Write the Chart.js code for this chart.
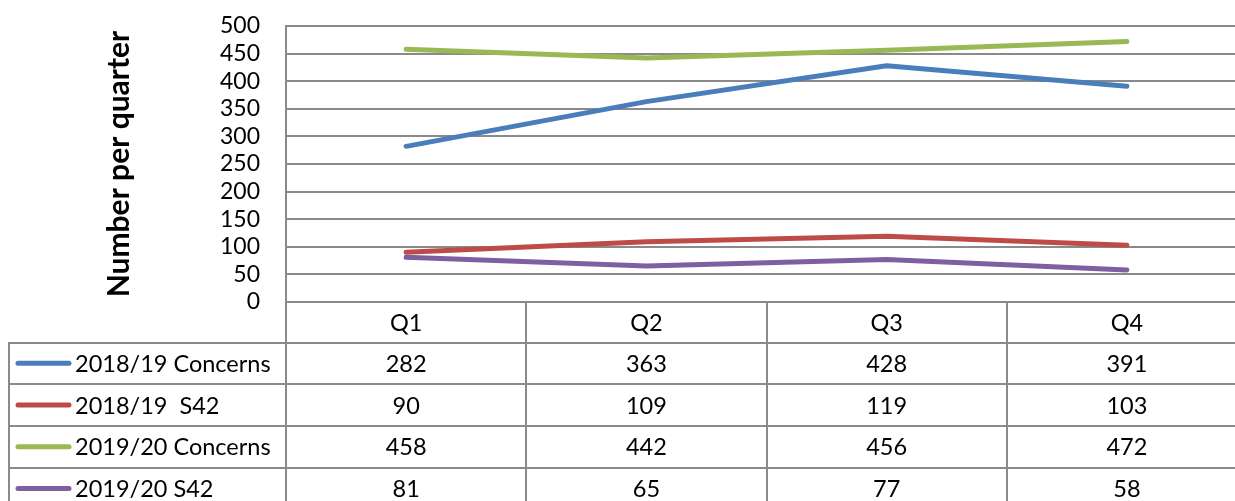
<!DOCTYPE html>
<html>
<head>
<meta charset="utf-8">
<script src="https://cdn.jsdelivr.net/npm/chart.js@4/dist/chart.umd.min.js"></script>
<style>
html,body{margin:0;padding:0;background:#fff;overflow:hidden;width:1235px;height:501px;}
#c{display:block;}
</style>
</head>
<body>
<canvas id="c" width="1247" height="501" style="width:1247px;height:501px"></canvas>
<script>
const categories = ['Q1', 'Q2', 'Q3', 'Q4'];
const concerns1819 = [282, 363, 428, 391];
const s42_1819 = [90, 109, 119, 103];
const concerns1920 = [458, 442, 456, 472];
const s42_1920 = [81, 65, 77, 58];
const seriesLabels = ['2018/19 Concerns', '2018/19  S42', '2019/20 Concerns', '2019/20 S42'];
const seriesColors = ['#4A7EBB', '#BE4B48', '#98B954', '#7D60A0'];
const yTicks = [0, 50, 100, 150, 200, 250, 300, 350, 400, 450, 500];
const yTitle = 'Number per quarter';

const FONT = 'Lato, "DejaVu Sans", sans-serif';
const GRID = '#8A8A8A';
const allSeries = [concerns1819, s42_1819, concerns1920, s42_1920];

const tablePlugin = {
  id: 'dataTable',
  afterDraw(chart) {
    const ctx = chart.ctx;
    const xs = chart.scales.x;
    const area = chart.chartArea;
    const top = area.bottom;
    const headerH = 40.5;
    const rowH = 41.7;
    const half = (xs.getPixelForValue(1) - xs.getPixelForValue(0)) / 2;
    const leftEdge = 9;
    ctx.save();
    ctx.strokeStyle = GRID;
    ctx.lineWidth = 2;
    const rowTops = [];
    for (let r = 0; r <= allSeries.length; r++) rowTops.push(top + headerH + r * rowH);
    rowTops.forEach(y => {
      ctx.beginPath();
      ctx.moveTo(leftEdge, Math.round(y));
      ctx.lineTo(area.right, Math.round(y));
      ctx.stroke();
    });
    for (let i = 0; i <= categories.length; i++) {
      const x = Math.round(xs.getPixelForValue(0) - half + i * 2 * half);
      ctx.beginPath();
      ctx.moveTo(x, top);
      ctx.lineTo(x, chart.height);
      ctx.stroke();
    }
    ctx.beginPath();
    ctx.moveTo(leftEdge, Math.round(rowTops[0]) - 1);
    ctx.lineTo(leftEdge, chart.height);
    ctx.stroke();
    ctx.fillStyle = '#000';
    ctx.font = '23.5px ' + FONT;
    ctx.textAlign = 'center';
    ctx.textBaseline = 'middle';
    categories.forEach((c, i) => {
      ctx.fillText(c, xs.getPixelForValue(i), top + headerH / 2 + 1);
    });
    allSeries.forEach((vals, r) => {
      const cy = rowTops[r] + rowH / 2 + 1;
      ctx.strokeStyle = seriesColors[r];
      ctx.lineWidth = 5;
      ctx.lineCap = 'round';
      ctx.beginPath();
      ctx.moveTo(18, cy - 1);
      ctx.lineTo(69, cy - 1);
      ctx.stroke();
      ctx.textAlign = 'left';
      ctx.fillText(seriesLabels[r], 75, cy);
      ctx.textAlign = 'center';
      vals.forEach((v, i) => ctx.fillText(String(v), xs.getPixelForValue(i), cy));
    });
    ctx.restore();
  }
};

new Chart(document.getElementById('c'), {
  type: 'line',
  data: {
    labels: categories,
    datasets: allSeries.map((d, i) => ({
      label: seriesLabels[i],
      data: d,
      borderColor: seriesColors[i],
      backgroundColor: seriesColors[i],
      borderWidth: 5,
      borderCapStyle: 'round',
      borderJoinStyle: 'round',
      pointRadius: 0,
      tension: 0,
      fill: false
    }))
  },
  options: {
    responsive: false,
    animation: false,
    devicePixelRatio: 1,
    layout: { padding: { left: 0, right: 0, top: 26, bottom: 0 } },
    plugins: { legend: { display: false }, tooltip: { enabled: false } },
    scales: {
      x: {
        offset: true,
        grid: { display: false, drawTicks: false },
        border: { display: false },
        ticks: { display: false },
        afterFit(s) { s.height = 199; s.paddingLeft = 0; s.paddingRight = 0; }
      },
      y: {
        min: 0, max: 500,
        afterBuildTicks(s) { s.ticks = yTicks.map(v => ({ value: v })); },
        grid: { color: GRID, lineWidth: 2, drawTicks: false },
        border: { display: true, color: GRID, width: 2 },
        ticks: { color: '#000', font: { family: FONT, size: 23 }, padding: 26, autoSkip: false },
        title: { display: true, text: yTitle, color: '#000', font: { family: FONT, size: 30, weight: 'bold' }, padding: { top: 101, bottom: 0 } },
        afterFit(s) { s.width = 286; s.paddingTop = 0; s.paddingBottom = 0; }
      }
    }
  },
  plugins: [tablePlugin]
});
</script>
</body>
</html>
